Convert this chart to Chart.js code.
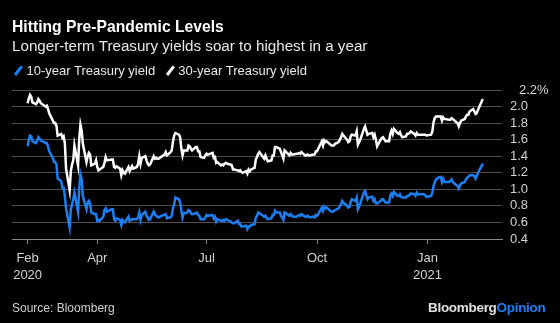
<!DOCTYPE html>
<html>
<head>
<meta charset="utf-8">
<script src="https://cdn.jsdelivr.net/npm/chart.js@4/dist/chart.umd.min.js"></script>
<style>
  html, body { margin: 0; padding: 0; background: #000; }
  #wrap { position: relative; width: 560px; height: 323px; overflow: hidden; background: #000;
          font-family: 'Liberation Sans', Arial, sans-serif; color: #fff; }
  #chart { position: absolute; left: 0; top: 0; }
  .txt { position: absolute; white-space: nowrap; line-height: 1; }
  #title { left: 12px; top: 19px; font-size: 15.7px; font-weight: bold; color: #fff; }
  #subtitle { left: 12px; top: 38px; font-size: 15.2px; color: #e8e8e8; }
  #legend { left: 12px; top: 64px; font-size: 13px; color: #e8e8e8; }
  #legend .sw { display: inline-block; width: 2.5px; height: 11px; margin: 0 7px 0 5px;
                transform: rotate(38deg); vertical-align: -1px; }
  #legend .item { margin-right: 5px; }
  #source { left: 12px; top: 302px; font-size: 12px; color: #cfcfcf; }
  #brand { left: 428px; top: 301px; font-size: 13.5px; font-weight: bold; color: #e0e0e0; letter-spacing: -0.3px; }
  #brand span { color: #1b7ef2; }
</style>
</head>
<body>
<div id="wrap">
  <canvas id="chart" width="560" height="323"></canvas>
  <div class="txt" id="title">Hitting Pre-Pandemic Levels</div>
  <div class="txt" id="subtitle">Longer-term Treasury yields soar to highest in a year</div>
  <div class="txt" id="legend">
    <span class="sw" style="background:#1b7ef2"></span><span class="item">10-year Treasury yield</span>
    <span class="sw" style="background:#fff"></span><span class="item">30-year Treasury yield</span>
  </div>
  <div class="txt" id="source">Source: Bloomberg</div>
  <div class="txt" id="brand">Bloomberg<span>Opinion</span></div>
</div>
<script>
// Daily closes, Feb 2020 - Feb 2021 (one line per month)
const dates = [
  '2020-02-03','2020-02-04','2020-02-05','2020-02-06','2020-02-07','2020-02-10','2020-02-11','2020-02-12','2020-02-13','2020-02-14','2020-02-18','2020-02-19','2020-02-20','2020-02-21','2020-02-24','2020-02-25','2020-02-26','2020-02-27','2020-02-28',
  '2020-03-02','2020-03-03','2020-03-04','2020-03-05','2020-03-06','2020-03-09','2020-03-10','2020-03-11','2020-03-12','2020-03-13','2020-03-16','2020-03-17','2020-03-18','2020-03-19','2020-03-20','2020-03-23','2020-03-24','2020-03-25','2020-03-26','2020-03-27','2020-03-30','2020-03-31',
  '2020-04-01','2020-04-02','2020-04-03','2020-04-06','2020-04-07','2020-04-08','2020-04-09','2020-04-13','2020-04-14','2020-04-15','2020-04-16','2020-04-17','2020-04-20','2020-04-21','2020-04-22','2020-04-23','2020-04-24','2020-04-27','2020-04-28','2020-04-29','2020-04-30',
  '2020-05-01','2020-05-04','2020-05-05','2020-05-06','2020-05-07','2020-05-08','2020-05-11','2020-05-12','2020-05-13','2020-05-14','2020-05-15','2020-05-18','2020-05-19','2020-05-20','2020-05-21','2020-05-22','2020-05-26','2020-05-27','2020-05-28','2020-05-29',
  '2020-06-01','2020-06-02','2020-06-03','2020-06-04','2020-06-05','2020-06-08','2020-06-09','2020-06-10','2020-06-11','2020-06-12','2020-06-15','2020-06-16','2020-06-17','2020-06-18','2020-06-19','2020-06-22','2020-06-23','2020-06-24','2020-06-25','2020-06-26','2020-06-29','2020-06-30',
  '2020-07-01','2020-07-02','2020-07-06','2020-07-07','2020-07-08','2020-07-09','2020-07-10','2020-07-13','2020-07-14','2020-07-15','2020-07-16','2020-07-17','2020-07-20','2020-07-21','2020-07-22','2020-07-23','2020-07-24','2020-07-27','2020-07-28','2020-07-29','2020-07-30','2020-07-31',
  '2020-08-03','2020-08-04','2020-08-05','2020-08-06','2020-08-07','2020-08-10','2020-08-11','2020-08-12','2020-08-13','2020-08-14','2020-08-17','2020-08-18','2020-08-19','2020-08-20','2020-08-21','2020-08-24','2020-08-25','2020-08-26','2020-08-27','2020-08-28','2020-08-31',
  '2020-09-01','2020-09-02','2020-09-03','2020-09-04','2020-09-08','2020-09-09','2020-09-10','2020-09-11','2020-09-14','2020-09-15','2020-09-16','2020-09-17','2020-09-18','2020-09-21','2020-09-22','2020-09-23','2020-09-24','2020-09-25','2020-09-28','2020-09-29','2020-09-30',
  '2020-10-01','2020-10-02','2020-10-05','2020-10-06','2020-10-07','2020-10-08','2020-10-09','2020-10-13','2020-10-14','2020-10-15','2020-10-16','2020-10-19','2020-10-20','2020-10-21','2020-10-22','2020-10-23','2020-10-26','2020-10-27','2020-10-28','2020-10-29','2020-10-30',
  '2020-11-02','2020-11-03','2020-11-04','2020-11-05','2020-11-06','2020-11-09','2020-11-10','2020-11-12','2020-11-13','2020-11-16','2020-11-17','2020-11-18','2020-11-19','2020-11-20','2020-11-23','2020-11-24','2020-11-25','2020-11-27','2020-11-30',
  '2020-12-01','2020-12-02','2020-12-03','2020-12-04','2020-12-07','2020-12-08','2020-12-09','2020-12-10','2020-12-11','2020-12-14','2020-12-15','2020-12-16','2020-12-17','2020-12-18','2020-12-21','2020-12-22','2020-12-23','2020-12-24','2020-12-28','2020-12-29','2020-12-30','2020-12-31',
  '2021-01-04','2021-01-05','2021-01-06','2021-01-07','2021-01-08','2021-01-11','2021-01-12','2021-01-13','2021-01-14','2021-01-15','2021-01-19','2021-01-20','2021-01-21','2021-01-22','2021-01-25','2021-01-26','2021-01-27','2021-01-28','2021-01-29',
  '2021-02-01','2021-02-02','2021-02-03','2021-02-04','2021-02-05','2021-02-08','2021-02-09','2021-02-10','2021-02-11','2021-02-12','2021-02-16'
];

const tenYear = [
  1.52,1.60,1.65,1.64,1.58,1.56,1.59,1.63,1.61,1.59,1.56,1.56,1.52,1.46,1.38,1.33,1.33,1.30,1.13,
  1.10,1.02,1.02,0.92,0.77,0.54,0.76,0.82,0.88,0.96,0.73,1.02,1.18,1.12,0.92,0.76,0.84,0.86,0.83,0.72,0.70,0.70,
  0.62,0.63,0.62,0.67,0.75,0.77,0.73,0.76,0.76,0.64,0.62,0.65,0.63,0.57,0.63,0.61,0.60,0.67,0.62,0.63,0.64,
  0.64,0.64,0.66,0.72,0.63,0.69,0.73,0.68,0.66,0.63,0.64,0.73,0.70,0.68,0.67,0.66,0.69,0.69,0.70,0.65,
  0.66,0.68,0.77,0.82,0.90,0.88,0.84,0.75,0.66,0.71,0.72,0.75,0.74,0.71,0.70,0.71,0.72,0.69,0.68,0.64,0.64,0.66,
  0.69,0.68,0.69,0.65,0.67,0.61,0.64,0.62,0.62,0.63,0.62,0.64,0.62,0.61,0.60,0.59,0.59,0.62,0.58,0.58,0.55,0.55,
  0.56,0.52,0.55,0.55,0.57,0.58,0.66,0.68,0.72,0.71,0.68,0.67,0.68,0.65,0.64,0.65,0.69,0.69,0.74,0.72,0.72,
  0.68,0.66,0.63,0.72,0.68,0.70,0.68,0.67,0.67,0.68,0.69,0.68,0.70,0.67,0.67,0.68,0.67,0.66,0.67,0.66,0.69,
  0.68,0.70,0.78,0.74,0.79,0.77,0.78,0.73,0.73,0.74,0.75,0.77,0.80,0.82,0.86,0.84,0.80,0.78,0.79,0.85,0.88,
  0.86,0.90,0.76,0.79,0.83,0.96,0.98,0.88,0.90,0.91,0.86,0.88,0.83,0.83,0.86,0.88,0.88,0.84,0.84,
  0.93,0.95,0.92,0.97,0.92,0.92,0.94,0.91,0.90,0.90,0.92,0.92,0.93,0.95,0.94,0.92,0.96,0.94,0.94,0.94,0.93,0.91,
  0.92,0.96,1.04,1.08,1.12,1.15,1.15,1.09,1.13,1.09,1.09,1.10,1.12,1.09,1.05,1.04,1.01,1.05,1.07,
  1.09,1.12,1.14,1.15,1.17,1.17,1.16,1.13,1.16,1.20,1.31
];

const thirtyYear = [
  2.04,2.10,2.14,2.12,2.05,2.03,2.05,2.09,2.07,2.04,2.00,2.01,1.97,1.92,1.83,1.80,1.80,1.77,1.65,
  1.67,1.62,1.64,1.56,1.25,0.99,1.22,1.30,1.35,1.53,1.29,1.61,1.78,1.71,1.55,1.33,1.40,1.44,1.42,1.29,1.31,1.35,
  1.27,1.23,1.24,1.27,1.32,1.39,1.35,1.36,1.36,1.27,1.26,1.28,1.25,1.17,1.23,1.20,1.19,1.27,1.22,1.25,1.28,
  1.25,1.27,1.31,1.40,1.31,1.38,1.40,1.35,1.31,1.29,1.30,1.40,1.37,1.38,1.37,1.37,1.41,1.42,1.45,1.41,
  1.45,1.47,1.57,1.65,1.68,1.66,1.63,1.49,1.41,1.47,1.47,1.53,1.52,1.49,1.47,1.51,1.51,1.46,1.46,1.39,1.38,1.41,
  1.43,1.42,1.44,1.38,1.39,1.32,1.33,1.29,1.30,1.29,1.31,1.32,1.30,1.30,1.29,1.24,1.24,1.23,1.22,1.23,1.21,1.20,
  1.22,1.19,1.24,1.22,1.24,1.26,1.36,1.39,1.43,1.45,1.39,1.37,1.41,1.37,1.34,1.35,1.41,1.41,1.51,1.51,1.49,
  1.45,1.41,1.37,1.47,1.41,1.44,1.42,1.42,1.43,1.43,1.44,1.43,1.45,1.41,1.41,1.42,1.41,1.41,1.42,1.42,1.46,
  1.46,1.49,1.58,1.53,1.59,1.57,1.58,1.53,1.53,1.53,1.55,1.57,1.60,1.63,1.67,1.65,1.60,1.57,1.58,1.64,1.66,
  1.65,1.70,1.54,1.57,1.60,1.73,1.76,1.66,1.67,1.68,1.63,1.66,1.60,1.52,1.60,1.62,1.63,1.58,1.58,
  1.67,1.71,1.67,1.73,1.68,1.67,1.69,1.65,1.63,1.64,1.67,1.67,1.68,1.70,1.67,1.65,1.68,1.66,1.66,1.66,1.66,1.65,
  1.66,1.70,1.81,1.86,1.88,1.88,1.88,1.83,1.87,1.85,1.84,1.84,1.86,1.85,1.81,1.80,1.76,1.80,1.83,
  1.85,1.88,1.90,1.90,1.94,1.97,1.94,1.91,1.92,1.96,2.09
];

// x axis tick marks: month starts, with the year on a second line
const xTickDates = ['2020-02-03', '2020-04-01', '2020-07-01', '2020-10-01', '2021-01-01'];
const xTickLabels = [['Feb', '2020'], ['Apr'], ['Jul'], ['Oct'], ['Jan', '2021']];
const yTicks = [0.4, 0.6, 0.8, 1.0, 1.2, 1.4, 1.6, 1.8, 2.0, 2.2];

const BLUE = '#1b7ef2';
const origin = Date.UTC(2020, 1, 1);
function dayIndex(s) {
  const p = s.split('-').map(Number);
  return (Date.UTC(p[0], p[1] - 1, p[2]) - origin) / 86400000;
}

const xs = dates.map(dayIndex);
const tickDays = xTickDates.map(dayIndex);

// right-hand value labels, top one carries the % sign
const yLabelPlugin = {
  id: 'yLabels',
  afterDraw(chart) {
    const { ctx, chartArea, scales } = chart;
    ctx.save();
    ctx.font = '13px "Liberation Sans", Arial, sans-serif';
    ctx.fillStyle = '#d2d2d2';
    ctx.textBaseline = 'middle';
    ctx.textAlign = 'left';
    yTicks.forEach((v, i) => {
      const y = scales.y.getPixelForValue(v);
      const last = i === yTicks.length - 1;
      ctx.fillText(last ? v.toFixed(1) + '%' : v.toFixed(1), chartArea.right + (last ? 17 : 8), y);
    });
    ctx.restore();
  }
};

new Chart(document.getElementById('chart'), {
  type: 'line',
  data: {
    datasets: [{
      label: '30-year Treasury yield',
      data: xs.map((x, i) => ({ x: x, y: thirtyYear[i] })),
      borderColor: '#ffffff',
      borderWidth: 2.5,
      pointRadius: 0,
      tension: 0
    }, {
      label: '10-year Treasury yield',
      data: xs.map((x, i) => ({ x: x, y: tenYear[i] })),
      borderColor: BLUE,
      borderWidth: 2.5,
      pointRadius: 0,
      tension: 0
    }]
  },
  options: {
    responsive: false,
    animation: false,
    devicePixelRatio: 1,
    layout: { padding: { left: 12, top: 90, right: 0, bottom: 0 } },
    plugins: { legend: { display: false }, tooltip: { enabled: false } },
    scales: {
      x: {
        type: 'linear',
        min: -11,
        max: 397,
        afterFit(scale) { scale.height = 84; },
        afterBuildTicks(scale) { scale.ticks = tickDays.map(v => ({ value: v })); },
        grid: { drawOnChartArea: false, drawTicks: true, tickLength: 5, color: '#8a8a8a' },
        border: { display: true, color: '#8a8a8a', width: 1 },
        ticks: {
          color: '#d2d2d2',
          font: { family: '"Liberation Sans", Arial, sans-serif', size: 13, lineHeight: 1.3 },
          padding: 6,
          maxRotation: 0,
          autoSkip: false,
          callback: (v, i) => xTickLabels[i]
        }
      },
      y: {
        position: 'right',
        min: 0.4,
        max: 2.2,
        afterFit(scale) { scale.width = 58; },
        afterBuildTicks(scale) { scale.ticks = yTicks.map(v => ({ value: v })); },
        grid: { color: '#4e4e4e', lineWidth: 1, drawTicks: false },
        border: { display: false },
        ticks: { display: false }
      }
    }
  },
  plugins: [yLabelPlugin]
});
</script>
</body>
</html>
